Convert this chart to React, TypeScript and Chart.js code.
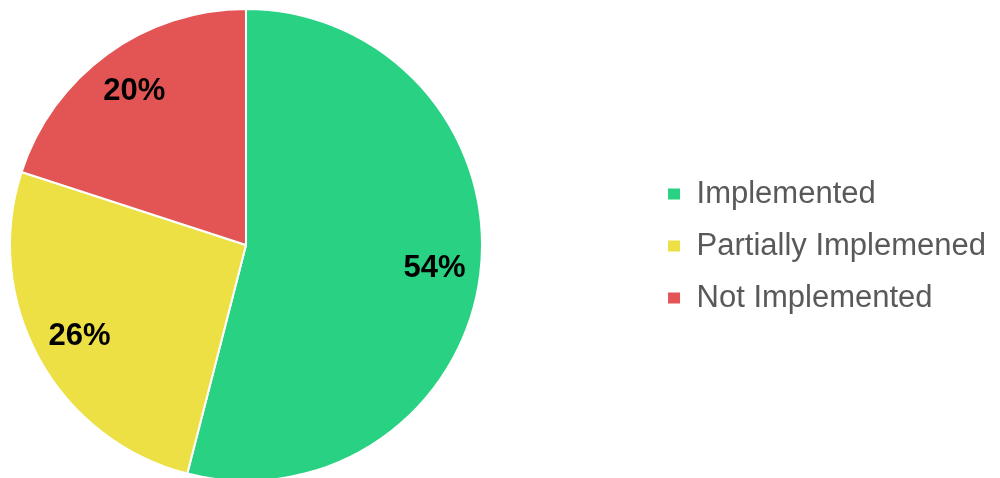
import React, { useEffect, useRef } from "react";
import { Chart, registerables } from "chart.js";

Chart.register(...registerables);

const categories = ["Implemented", "Partially Implemened", "Not Implemented"];
const values = [54, 26, 20];
const colors = ["#29D182", "#ECE045", "#E35555"];

const FONT = "'Liberation Sans', Arial, sans-serif";

const labelPlugin = {
  id: "sliceLabels",
  afterLayout(chart: any) {
    // place the pie on the left half, legend position kept by Chart.js
    const ca = chart.chartArea;
    ca.left = 8;
    ca.right = 484;
    ca.top = 8;
    ca.bottom = 482;
    ca.width = ca.right - ca.left;
    ca.height = ca.bottom - ca.top;
    const lg = chart.legend;
    if (lg) {
      const dx = -4;
      const dy = 7;
      lg.left += dx;
      lg.right += dx;
      lg.top += dy;
      lg.bottom += dy;
    }
  },
  afterDatasetsDraw(chart: any) {
    const ctx = chart.ctx;
    const meta = chart.getDatasetMeta(0);
    const total = values.reduce((a, b) => a + b, 0);
    ctx.save();
    ctx.font = "bold 31px " + FONT;
    ctx.fillStyle = "#000000";
    ctx.textAlign = "center";
    ctx.textBaseline = "middle";
    meta.data.forEach((arc: any, i: number) => {
      const p = arc.getProps(["x", "y", "startAngle", "endAngle", "outerRadius"], true);
      const mid = (p.startAngle + p.endAngle) / 2;
      const r = p.outerRadius * 0.805;
      const pct = Math.round((values[i] / total) * 100) + "%";
      ctx.fillText(pct, p.x + Math.cos(mid) * r, p.y + Math.sin(mid) * r);
    });
    ctx.restore();
  },
};

export default function App() {
  const ref = useRef<HTMLCanvasElement>(null);
  useEffect(() => {
    if (!ref.current) return;
    Chart.defaults.font.family = FONT;
    const chart = new Chart(ref.current, {
      type: "pie",
      data: {
        labels: categories,
        datasets: [
          {
            data: values,
            backgroundColor: colors,
            borderColor: "#FFFFFF",
            borderWidth: 2,
          },
        ],
      },
      options: {
        animation: false,
        responsive: true,
        maintainAspectRatio: false,
        layout: { padding: 0 },
        plugins: {
          tooltip: { enabled: false },
          legend: {
            position: "right",
            align: "center",
            labels: {
              boxWidth: 14,
              boxHeight: 13,
              padding: 21,
              color: "#595959",
              font: { size: 31, family: FONT },
            },
          },
        },
      },
      plugins: [labelPlugin],
    });
    return () => chart.destroy();
  }, []);
  return (
    <div style={{ position: "absolute", left: 0, top: 0, width: 1000, height: 478, background: "#fff" }}>
      <canvas ref={ref} />
    </div>
  );
}
